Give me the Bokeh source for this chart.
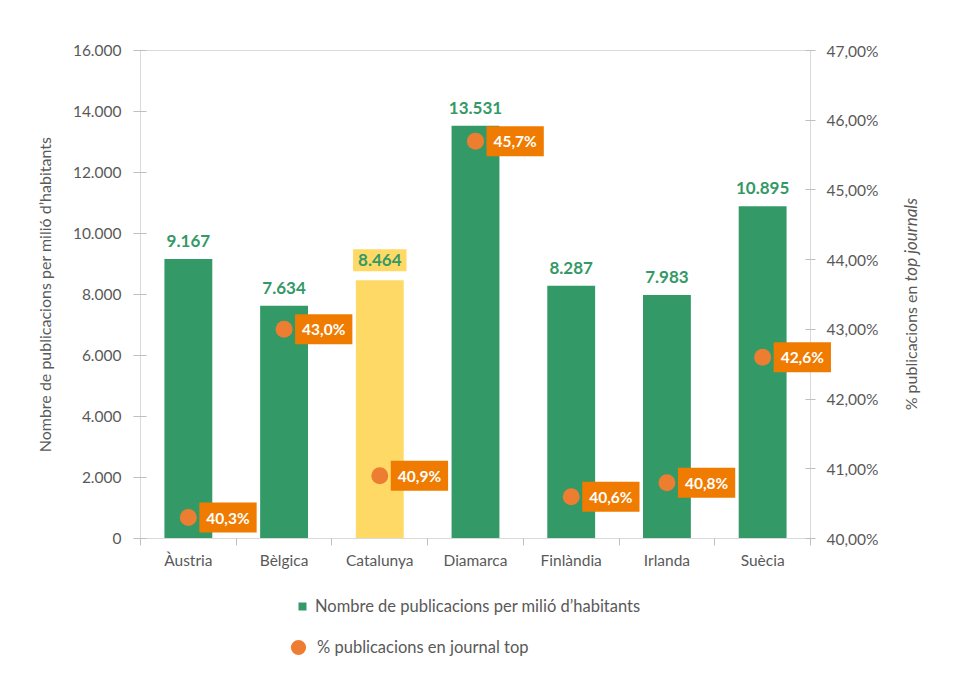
import math
from bokeh.plotting import figure
from bokeh.layouts import column
from bokeh.models import (ColumnDataSource, Range1d, LinearAxis, FixedTicker,
                          Label, Legend, LegendItem)
from bokeh.embed import file_html
from bokeh.resources import INLINE

# ---------------- data ----------------
categories = ["Àustria", "Bèlgica", "Catalunya", "Diamarca", "Finlàndia", "Irlanda", "Suècia"]
publications = [9167, 7634, 8464, 13531, 8287, 7983, 10895]
top_journal_pct = [40.3, 43.0, 40.9, 45.7, 40.6, 40.8, 42.6]
highlight = "Catalunya"

left_ticks = [0, 2000, 4000, 6000, 8000, 10000, 12000, 14000, 16000]
left_tick_labels = ["0", "2.000", "4.000", "6.000", "8.000", "10.000", "12.000", "14.000", "16.000"]
right_ticks = [40, 41, 42, 43, 44, 45, 46, 47]
right_tick_labels = ["40,00%", "41,00%", "42,00%", "43,00%", "44,00%", "45,00%", "46,00%", "47,00%"]

bar_series_name = "Nombre de publicacions per milió d’habitants"
dot_series_name = "% publicacions en journal top"
left_axis_title = "Nombre de publicacions per milió d’habitants"
right_axis_title_plain = "% publicacions en"
right_axis_title_italic = "top journals"

# ---------------- style ----------------
FONT = "Lato"
GREEN = "#339966"
YELLOW = "#FFD966"
DOT = "#ED7D31"
BOX = "#EF7B00"
AXIS = "#D9D9D9"
TICK = "#BFBFBF"
TXT = "#595959"

def fmt_int(v):
    return f"{v:,}".replace(",", ".")

def fmt_pct(v):
    return f"{v:.1f}".replace(".", ",") + "%"

n = len(categories)
xs = [i + 0.5 for i in range(n)]
colors = [YELLOW if c == highlight else GREEN for c in categories]

bar_src = ColumnDataSource(dict(x=xs, top=publications, color=colors))
dot_src = ColumnDataSource(dict(x=xs, y=top_journal_pct, label=[fmt_pct(v) for v in top_journal_pct]))

p = figure(width=941, height=580, x_range=Range1d(0, n), y_range=Range1d(left_ticks[0], left_ticks[-1]),
           output_backend="svg", toolbar_location=None,
           min_border_left=140, min_border_right=131, min_border_top=50, min_border_bottom=42)
p.extra_y_ranges = {"pct": Range1d(right_ticks[0], right_ticks[-1])}
p.grid.visible = False
p.outline_line_color = AXIS
p.outline_line_width = 1
p.background_fill_color = "white"
p.border_fill_color = "white"

bars = p.vbar(x="x", top="top", width=0.5, fill_color="color", line_color=None, source=bar_src)
dots = p.scatter(x="x", y="y", size=17, fill_color=DOT, line_color=None, y_range_name="pct", source=dot_src)

# ---- x axis ----
xa = p.xaxis[0]
xa.ticker = FixedTicker(ticks=xs, minor_ticks=list(range(n + 1)))
xa.major_label_overrides = {x: c for x, c in zip(xs, categories)}
xa.major_tick_line_color = None
xa.major_tick_out = 0
xa.major_tick_in = 0
xa.minor_tick_line_color = TICK
xa.minor_tick_out = 7
xa.minor_tick_in = 0
xa.axis_line_color = AXIS
xa.major_label_text_font = FONT
xa.major_label_text_font_size = "15.5px"
xa.major_label_text_color = TXT
xa.major_label_standoff = 5

# ---- left axis ----
ya = p.yaxis[0]
ya.ticker = FixedTicker(ticks=left_ticks)
ya.major_label_overrides = {t: l for t, l in zip(left_ticks, left_tick_labels)}
ya.minor_tick_line_color = None
ya.major_tick_line_color = TICK
ya.major_tick_out = 7
ya.major_tick_in = 6
ya.axis_line_color = AXIS
ya.major_label_text_font = FONT
ya.major_label_text_font_size = "15.5px"
ya.major_label_text_color = TXT
ya.major_label_standoff = 12
ya.axis_label = left_axis_title
ya.axis_label_text_font = FONT
ya.axis_label_text_font_size = "16px"
ya.axis_label_text_font_style = "normal"
ya.axis_label_text_color = TXT
ya.axis_label_standoff = 16

# ---- right axis ----
ra = LinearAxis(y_range_name="pct", ticker=FixedTicker(ticks=right_ticks))
ra.major_label_overrides = {t: l for t, l in zip(right_ticks, right_tick_labels)}
ra.minor_tick_line_color = None
ra.major_tick_line_color = TICK
ra.major_tick_out = 5
ra.major_tick_in = 5
ra.axis_line_color = AXIS
ra.major_label_text_font = FONT
ra.major_label_text_font_size = "15.5px"
ra.major_label_text_color = TXT
ra.major_label_standoff = 11
p.add_layout(ra, "right")

# right axis title (two runs: plain + italic), drawn as overlay text beside the right axis
y_mid = (left_ticks[0] + left_ticks[-1]) / 2
t1 = p.text(x=[n], y=[y_mid], text=[right_axis_title_plain], angle=math.pi / 2,
            x_offset=100, y_offset=-9, text_align="right", text_baseline="middle",
            text_font={"value": FONT}, text_font_size="16px", text_color=TXT)
t2 = p.text(x=[n], y=[y_mid], text=[right_axis_title_italic], angle=math.pi / 2,
            x_offset=100, y_offset=-13, text_align="left", text_baseline="middle",
            text_font={"value": FONT}, text_font_size="17px", text_font_style="italic", text_color=TXT)
t1.level = "overlay"
t2.level = "overlay"

# ---- bar value labels ----
for x, v, c in zip(xs, publications, categories):
    if c == highlight:
        p.add_layout(Label(x=x, y=v, text=fmt_int(v), text_align="center", text_baseline="middle",
                           y_offset=20, text_font=FONT, text_font_size="17px", text_font_style="bold",
                           text_color=GREEN, background_fill_color=YELLOW, padding=(5, 5)))
    else:
        p.add_layout(Label(x=x, y=v, text=fmt_int(v), text_align="center", text_baseline="middle",
                           y_offset=18, text_font=FONT, text_font_size="17px", text_font_style="bold",
                           text_color=GREEN))

# ---- dot value labels (overlay text so they may cross the right axis) ----
pl = p.text(x="x", y="y", text="label", y_range_name="pct", source=dot_src,
            x_offset=11, text_align="left", text_baseline="middle",
            text_font={"value": FONT}, text_font_size="15.5px", text_font_style="bold",
            text_color="white", background_fill_color=BOX, padding=[7, 6])
pl.level = "overlay"

# ---- legend strip (separate figure below the chart) ----
lg = figure(width=941, height=80, x_range=Range1d(0, 1), y_range=Range1d(0, 1),
            output_backend="svg", toolbar_location=None, x_axis_location=None, y_axis_location=None,
            min_border=0, min_border_left=0, min_border_right=0, min_border_top=0, min_border_bottom=0)
lg.grid.visible = False
lg.outline_line_color = None
lg.background_fill_color = "white"
lg.border_fill_color = "white"
nan = float("nan")
proxy_bar = lg.vbar(x=[nan], top=[nan], width=0.5, fill_color=GREEN, line_color=None)
proxy_dot = lg.scatter(x=[nan], y=[nan], size=17, fill_color=DOT, line_color=None)

leg_a = Legend(items=[LegendItem(label=bar_series_name, renderers=[proxy_bar], index=0)],
               location=(157, 44), orientation="vertical", padding=0, margin=0,
               glyph_width=10, glyph_height=10, label_height=20, label_standoff=8,
               border_line_color=None, background_fill_alpha=0,
               label_text_font=FONT, label_text_font_size="16.5px", label_text_color=TXT)
leg_b = Legend(items=[LegendItem(label=dot_series_name, renderers=[proxy_dot], index=0)],
               location=(139, -6), orientation="vertical", padding=0, margin=0,
               glyph_width=38, glyph_height=38, label_height=20, label_standoff=0,
               border_line_color=None, background_fill_alpha=0,
               label_text_font=FONT, label_text_font_size="16.5px", label_text_color=TXT)
lg.add_layout(leg_a, "center")
lg.add_layout(leg_b, "center")

layout = column(p, lg, spacing=0)
open("out.html", "w").write(file_html(layout, INLINE))
